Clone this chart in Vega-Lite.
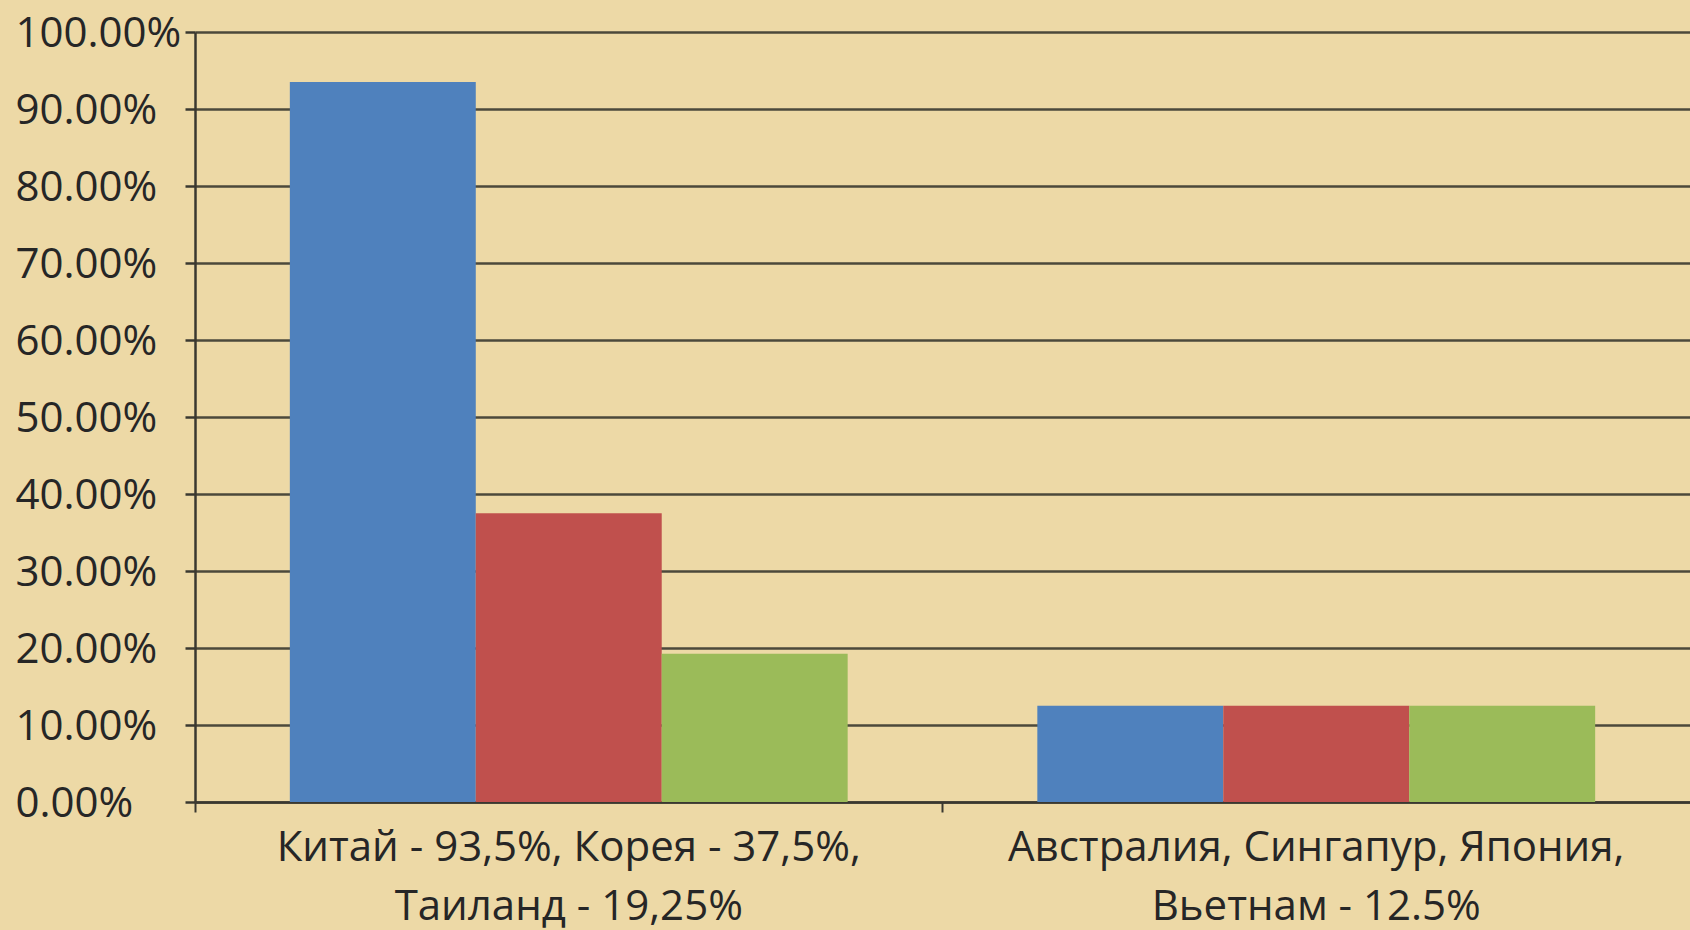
{
  "$schema": "https://vega.github.io/schema/vega-lite/v6.json",
  "width": 1495,
  "height": 770,
  "autosize": "none",
  "padding": {"left": 195, "top": 32, "right": 0, "bottom": 128},
  "background": "#EDD9A6",
  "data": {
    "values": [
      {"group": "Китай - 93,5%, Корея - 37,5%, Таиланд - 19,25%", "series": "1", "value": 0.935},
      {"group": "Китай - 93,5%, Корея - 37,5%, Таиланд - 19,25%", "series": "2", "value": 0.375},
      {"group": "Китай - 93,5%, Корея - 37,5%, Таиланд - 19,25%", "series": "3", "value": 0.1925},
      {"group": "Австралия, Сингапур, Япония, Вьетнам - 12.5%", "series": "1", "value": 0.125},
      {"group": "Австралия, Сингапур, Япония, Вьетнам - 12.5%", "series": "2", "value": 0.125},
      {"group": "Австралия, Сингапур, Япония, Вьетнам - 12.5%", "series": "3", "value": 0.125}
    ]
  },
  "mark": {"type": "bar"},
  "encoding": {
    "x": {
      "field": "group",
      "type": "nominal",
      "sort": null,
      "scale": {"paddingInner": 0, "paddingOuter": 0},
      "axis": {
        "title": null,
        "labelAngle": 0,
        "labelFont": "Open Sans",
        "labelFontSize": 42,
        "labelColor": "#262626",
        "labelBaseline": "top",
        "labelLineHeight": 59,
        "labelPadding": 15,
        "labelLimit": 0,
        "bandPosition": 0,
        "tickSize": 10,
        "tickColor": "#3a3830",
        "tickWidth": 2,
        "domainColor": "#3a3830",
        "domainWidth": 2.5,
        "grid": false,
        "labelExpr": "indexof(datum.label, 'Китай') == 0 ? ['Китай - 93,5%, Корея - 37,5%,', 'Таиланд - 19,25%'] : ['Австралия, Сингапур, Япония,', 'Вьетнам - 12.5%']"
      }
    },
    "xOffset": {
      "field": "series",
      "type": "nominal",
      "scale": {"paddingInner": 0, "paddingOuter": 0.51}
    },
    "y": {
      "field": "value",
      "type": "quantitative",
      "scale": {"domain": [0, 1], "nice": false},
      "axis": {
        "title": null,
        "values": [0, 0.1, 0.2, 0.3, 0.4, 0.5, 0.6, 0.7, 0.8, 0.9, 1],
        "format": ".2%",
        "labelFont": "Open Sans",
        "labelFontSize": 42,
        "labelColor": "#262626",
        "labelAlign": "left",
        "labelBaseline": "middle",
        "labelPadding": 170,
        "labelOffset": 1,
        "tickSize": 10,
        "tickColor": "#3a3830",
        "tickWidth": 2.5,
        "domainColor": "#3a3830",
        "domainWidth": 2.5,
        "grid": true,
        "gridColor": "#3a3830",
        "gridWidth": 2.5,
        "gridOpacity": 0.9
      }
    },
    "color": {
      "field": "series",
      "type": "nominal",
      "scale": {"domain": ["1", "2", "3"], "range": ["#4F81BD", "#C0504D", "#9BBB59"]},
      "legend": null
    }
  },
  "config": {
    "view": {"stroke": null},
    "axis": {"zindex": 0}
  }
}
